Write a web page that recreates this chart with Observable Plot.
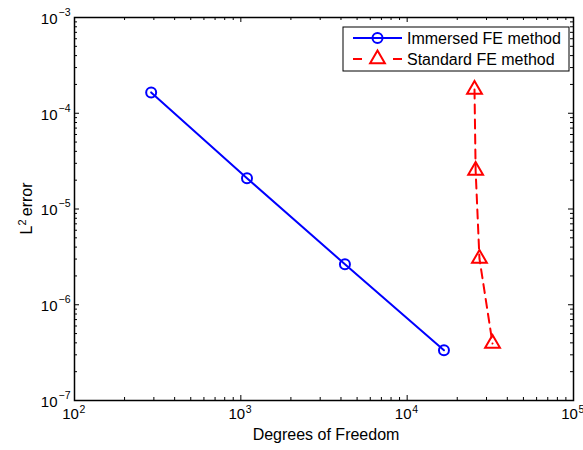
<!DOCTYPE html>
<html><head><meta charset="utf-8">
<script src="https://cdn.jsdelivr.net/npm/d3@7"></script>
<script src="https://cdn.jsdelivr.net/npm/@observablehq/plot@0.6"></script>
<style>body{margin:0;background:#fff} #chart{width:583px;height:450px}</style>
</head><body><div id="chart"></div>
<script>
const dofImmersed = [289, 1089, 4225, 16641];
const errImmersed = [1.65e-4, 2.1e-5, 2.65e-6, 3.35e-7];
const dofStandard = [25400, 25800, 27200, 32600];
const errStandard = [1.77e-4, 2.52e-5, 3.04e-6, 3.94e-7];
const xTickExponents = [2, 3, 4, 5];
const yTickExponents = [-7, -6, -5, -4, -3];
const minorMultipliers = [2, 3, 4, 5, 6, 7, 8, 9];
const seriesNames = ["Immersed FE method", "Standard FE method"];
const xLabel = "Degrees of Freedom";
const yLabelParts = ["L", "2", "error"];

const W = 583, H = 450, ML = 74, MR = 10, MT = 17, MB = 50;
const FW = W - ML - MR, FH = H - MT - MB;
const FONT = "Liberation Sans, Arial, Helvetica, sans-serif";

const immersed = dofImmersed.map((x, i) => ({x, y: errImmersed[i]}));
const standard = dofStandard.map((x, i) => ({x, y: errStandard[i]}));

const xMajor = xTickExponents.map(e => 10 ** e);
const yMajor = yTickExponents.map(e => 10 ** e);
const xMinor = xTickExponents.slice(0, -1).flatMap(e => minorMultipliers.map(m => m * 10 ** e));
const yMinor = yTickExponents.slice(0, -1).flatMap(e => minorMultipliers.map(m => m * 10 ** e));

const MAJ = 5, MIN = 3;
const tickStyle = {stroke: "black", strokeWidth: 1};

const plot = Plot.plot({
  width: W, height: H,
  marginLeft: ML, marginRight: MR, marginTop: MT, marginBottom: MB,
  style: {fontFamily: FONT, background: "white", color: "black"},
  x: {type: "log", domain: [xMajor[0], xMajor[xMajor.length - 1]], axis: null},
  y: {type: "log", domain: [yMajor[0], yMajor[yMajor.length - 1]], axis: null},
  marks: [
    Plot.ruleX(xMajor, {x: d => d, insetTop: FH - MAJ, ...tickStyle}),
    Plot.ruleX(xMajor, {x: d => d, insetBottom: FH - MAJ, ...tickStyle}),
    Plot.ruleX(xMinor, {x: d => d, insetTop: FH - MIN, ...tickStyle}),
    Plot.ruleX(xMinor, {x: d => d, insetBottom: FH - MIN, ...tickStyle}),
    Plot.ruleY(yMajor, {y: d => d, insetRight: FW - MAJ, ...tickStyle}),
    Plot.ruleY(yMajor, {y: d => d, insetLeft: FW - MAJ, ...tickStyle}),
    Plot.ruleY(yMinor, {y: d => d, insetRight: FW - MIN, ...tickStyle}),
    Plot.ruleY(yMinor, {y: d => d, insetLeft: FW - MIN, ...tickStyle}),
    Plot.frame({stroke: "black", strokeWidth: 1.5}),
    Plot.text(xTickExponents, {x: d => 10 ** d, frameAnchor: "bottom", text: () => "10", dx: -4, dy: 18, fontSize: 15}),
    Plot.text(xTickExponents, {x: d => 10 ** d, frameAnchor: "bottom", text: d => String(d), textAnchor: "start", dx: 5, dy: 12, fontSize: 10.5}),
    Plot.text(yTickExponents, {y: d => 10 ** d, frameAnchor: "left", text: () => "10", textAnchor: "end", dx: -17, dy: 1.5, fontSize: 15}),
    Plot.text(yTickExponents, {y: d => 10 ** d, frameAnchor: "left", text: d => "\u2212" + Math.abs(d), textAnchor: "end", dx: -4, dy: -5, fontSize: 10.5}),
    Plot.text([xLabel], {frameAnchor: "bottom", text: d => d, dx: 2, dy: 39, fontSize: 16}),
    Plot.line(immersed, {x: "x", y: "y", stroke: "#0000ff", strokeWidth: 2}),
    Plot.dot(immersed, {x: "x", y: "y", r: 5, stroke: "#0000ff", strokeWidth: 2, fill: "none"}),
    Plot.line(standard, {x: "x", y: "y", stroke: "#ff0000", strokeWidth: 2, strokeDasharray: "9,6"}),
    Plot.dot(standard, {x: "x", y: "y", symbol: "triangle", r: 5.5, stroke: "#ff0000", strokeWidth: 2, fill: "none"})
  ]
});
document.getElementById("chart").appendChild(plot);

const svg = d3.select(plot);
const yl = svg.append("text")
  .attr("transform", `translate(32,${MT + FH / 2}) rotate(-90)`)
  .attr("text-anchor", "middle")
  .attr("font-family", FONT).attr("font-size", 16).attr("fill", "black");
yl.append("tspan").text(yLabelParts[0]);
yl.append("tspan").attr("dy", -6).attr("font-size", 11).text(yLabelParts[1]);
yl.append("tspan").attr("dy", 6).text("\u2009" + yLabelParts[2]);

const lg = svg.append("g");
lg.append("rect").attr("x", 343).attr("y", 27).attr("width", 226).attr("height", 44)
  .attr("fill", "white").attr("stroke", "black").attr("stroke-width", 1);
const rows = [
  {name: seriesNames[0], color: "#0000ff", y: 38, sym: d3.symbolCircle, dashed: false},
  {name: seriesNames[1], color: "#ff0000", y: 59, sym: d3.symbolTriangle, dashed: true}
];
rows.forEach(r => {
  if (r.dashed) {
    lg.append("line").attr("x1", 353).attr("x2", 362).attr("y1", r.y).attr("y2", r.y).attr("stroke", r.color).attr("stroke-width", 2);
    lg.append("line").attr("x1", 393).attr("x2", 402).attr("y1", r.y).attr("y2", r.y).attr("stroke", r.color).attr("stroke-width", 2);
  } else {
    lg.append("line").attr("x1", 353).attr("x2", 402).attr("y1", r.y).attr("y2", r.y).attr("stroke", r.color).attr("stroke-width", 2);
  }
  lg.append("path").attr("d", d3.symbol(r.sym, Math.PI * (r.dashed ? 30 : 25))()).attr("transform", `translate(377.5,${r.y})`)
    .attr("fill", "none").attr("stroke", r.color).attr("stroke-width", 2);
  lg.append("text").attr("x", 407).attr("y", r.y).attr("dy", "0.35em").attr("text-anchor", "start")
    .attr("font-family", FONT).attr("font-size", 16).attr("fill", "black").text(r.name);
});
</script>
</body></html>
